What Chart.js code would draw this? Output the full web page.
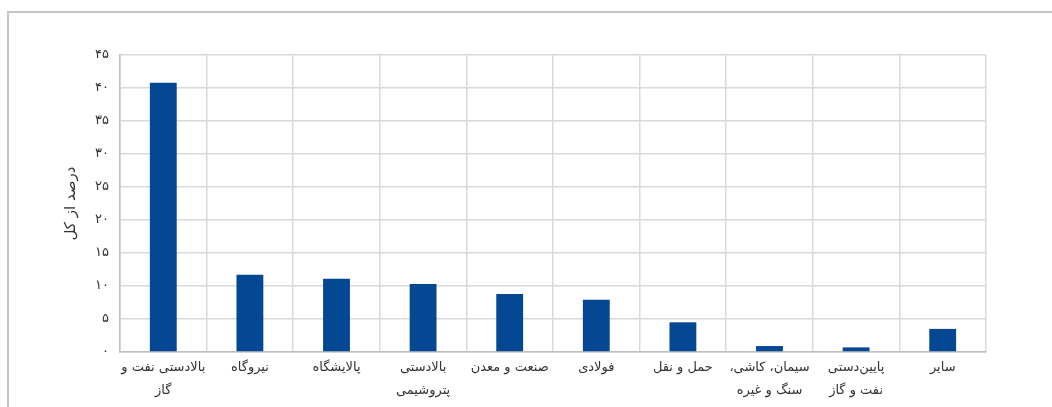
<!DOCTYPE html>
<html>
<head>
<meta charset="utf-8">
<script src="https://cdn.jsdelivr.net/npm/chart.js@4.4.1/dist/chart.umd.min.js"></script>
<style>
  html, body { margin: 0; padding: 0; background: #fff; overflow: hidden; }
  #wrap { position: relative; width: 1052px; height: 407px; }
  #frame { position: absolute; left: 7px; top: 11px; width: 1100px; height: 500px; border: 2px solid #c4c4c4; box-sizing: border-box; }
  #chartBox { position: absolute; left: 0; top: 0; width: 1052px; height: 407px; }
</style>
</head>
<body>
<div id="wrap">
  <div id="frame"></div>
  <div id="chartBox"><canvas id="barChart" dir="rtl"></canvas></div>
</div>
<script>
const categorias = [
  ['بالادستی نفت و', 'گاز'],
  'نیروگاه',
  'پالایشگاه',
  ['بالادستی', 'پتروشیمی'],
  'صنعت و معدن',
  'فولادی',
  'حمل و نقل',
  ['سیمان، کاشی،', 'سنگ و غیره'],
  ['پایین‌دستی', 'نفت و گاز'],
  'سایر'
];
const valores = [40.8, 11.7, 11.1, 10.3, 8.8, 7.9, 4.5, 0.9, 0.7, 3.5];
const etiquetasY = ['۰', '۵', '۱۰', '۱۵', '۲۰', '۲۵', '۳۰', '۳۵', '۴۰', '۴۵'];
const tituloY = 'درصد از کل';

document.addEventListener("DOMContentLoaded", () => {
  const ctx = document.getElementById('barChart').getContext('2d');
  const fuente = "'DejaVu Sans', sans-serif";

  new Chart(ctx, {
    type: 'bar',
    data: {
      labels: categorias,
      datasets: [{
        data: valores,
        backgroundColor: '#044793',
        borderWidth: 0,
        categoryPercentage: 1,
        barPercentage: 0.31
      }]
    },
    options: {
      responsive: true,
      maintainAspectRatio: false,
      animation: false,
      layout: { padding: { left: 62, right: 66, top: 55, bottom: 0 } },
      plugins: { legend: { display: false }, tooltip: { enabled: false } },
      scales: {
        x: {
          grid: { color: '#d9d9d9', lineWidth: 1.5, offset: true, drawTicks: false },
          border: { color: '#bfbfbf', width: 1.5 },
          ticks: {
            color: '#333',
            font: { family: fuente, size: 13, lineHeight: 1.8 },
            padding: 4,
            maxRotation: 0,
            autoSkip: false
          },
          afterFit: scale => { scale.height = 55; }
        },
        y: {
          min: 0,
          max: 45,
          grid: { color: '#d9d9d9', lineWidth: 1.5, drawTicks: false },
          border: { color: '#bfbfbf', width: 1.5 },
          ticks: {
            stepSize: 5,
            color: '#333',
            font: { family: fuente, size: 13 },
            padding: 11,
            callback: (value) => etiquetasY[Math.round(value / 5)]
          },
          title: {
            display: true,
            text: tituloY,
            color: '#333',
            font: { family: fuente, size: 15 },
            padding: { top: 0, bottom: 6 }
          },
          afterFit: scale => { scale.width = 58; }
        }
      }
    }
  });
});
</script>
</body>
</html>
